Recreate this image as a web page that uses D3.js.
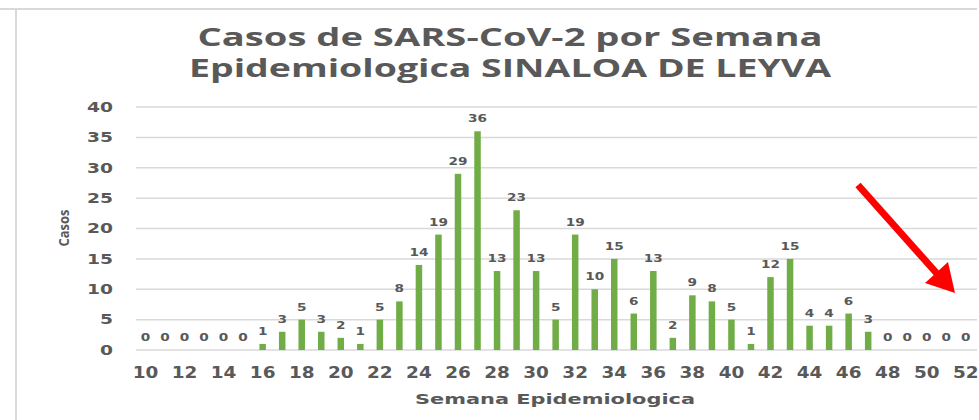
<!DOCTYPE html>
<html>
<head>
<meta charset="utf-8">
<script src="https://cdn.jsdelivr.net/npm/d3@7"></script>
<style>
  body { margin: 0; background: #fff; }
  svg { display: block; }
</style>
</head>
<body>
<div id="chart"></div>
<script>
// weekly cases, weeks 10..52
var weeks = d3.range(10, 53);
var casos = [0, 0, 0, 0, 0, 0, 1, 3, 5, 3, 2, 1, 5, 8, 14, 19, 29, 36, 13, 23,
             13, 5, 19, 10, 15, 6, 13, 2, 9, 8, 5, 1, 12, 15, 4, 4, 6, 3, 0, 0,
             0, 0, 0];
var yTicks = [0, 5, 10, 15, 20, 25, 30, 35, 40];
var xTickLabels = weeks.filter(function(w) { return w % 2 === 0; });
var titleLines = ["Casos de SARS-CoV-2 por Semana", "Epidemiologica SINALOA DE LEYVA"];

var width = 979,
    height = 420,
    textColor = "#595959",
    gridColor = "#d9d9d9",
    barColor = "#70ad47";

var svg = d3.select("#chart").append("svg")
    .attr("width", width)
    .attr("height", height);

// frame of the pasted chart
svg.append("line")
    .attr("x1", 0).attr("x2", 977).attr("y1", 9).attr("y2", 9)
    .style("stroke", gridColor).style("stroke-width", 2);
svg.append("line")
    .attr("x1", 16).attr("x2", 16).attr("y1", 9).attr("y2", height)
    .style("stroke", gridColor).style("stroke-width", 2);

var x = d3.scaleBand()
    .domain(weeks)
    .range([135.7, 975.6])
    .paddingInner(0)
    .paddingOuter(0);

var y = d3.scaleLinear()
    .domain([0, 40])
    .range([350, 107]);

var barW = 6.5;

// title
svg.append("g").selectAll("text")
    .data(titleLines)
    .enter().append("text")
    .attr("x", 510)
    .attr("y", function(d, i) { return 46 + i * 31; })
    .attr("text-anchor", "middle")
    .attr("textLength", function(d, i) { return i === 0 ? 625 : 642; })
    .attr("lengthAdjust", "spacingAndGlyphs")
    .style("font-family", "'Open Sans', sans-serif")
    .style("font-weight", 700)
    .style("font-size", "25px")
    .style("fill", textColor)
    .text(function(d) { return d; });

// gridlines
svg.append("g").selectAll("line")
    .data(yTicks)
    .enter().append("line")
    .attr("x1", 136)
    .attr("x2", 977)
    .attr("y1", function(d) { return y(d); })
    .attr("y2", function(d) { return y(d); })
    .style("stroke", gridColor)
    .style("stroke-width", 1.5);

// y axis labels
svg.append("g").selectAll("text")
    .data(yTicks)
    .enter().append("text")
    .attr("x", 113)
    .attr("y", function(d) { return y(d); })
    .attr("dy", "0.36em")
    .attr("text-anchor", "end")
    .attr("textLength", function(d) { return String(d).length * 13; })
    .attr("lengthAdjust", "spacingAndGlyphs")
    .style("font-family", "'DejaVu Sans', sans-serif")
    .style("font-weight", "bold")
    .style("font-size", "13.5px")
    .style("fill", textColor)
    .text(function(d) { return d; });

// x axis labels
svg.append("g").selectAll("text")
    .data(xTickLabels)
    .enter().append("text")
    .attr("x", function(d) { return x(d) + x.bandwidth() / 2; })
    .attr("y", 378)
    .attr("text-anchor", "middle")
    .attr("textLength", function(d) { return String(d).length * 12.8; })
    .attr("lengthAdjust", "spacingAndGlyphs")
    .style("font-family", "'DejaVu Sans', sans-serif")
    .style("font-weight", "bold")
    .style("font-size", "16px")
    .style("fill", textColor)
    .text(function(d) { return d; });

// bars
svg.append("g").selectAll("rect")
    .data(casos)
    .enter().append("rect")
    .attr("x", function(d, i) { return x(weeks[i]) + x.bandwidth() / 2 - barW / 2; })
    .attr("y", function(d) { return y(d); })
    .attr("width", barW)
    .attr("height", function(d) { return y(0) - y(d); })
    .style("fill", barColor);

// data labels
svg.append("g").selectAll("text")
    .data(casos)
    .enter().append("text")
    .attr("x", function(d, i) { return x(weeks[i]) + x.bandwidth() / 2; })
    .attr("y", function(d) { return y(d) - 9; })
    .attr("text-anchor", "middle")
    .attr("textLength", function(d) { return String(d).length * 9.5; })
    .attr("lengthAdjust", "spacingAndGlyphs")
    .style("font-family", "'DejaVu Sans', sans-serif")
    .style("font-weight", "bold")
    .style("font-size", "10.5px")
    .style("fill", textColor)
    .text(function(d) { return d; });

// axis titles
svg.append("text")
    .attr("x", 555)
    .attr("y", 404)
    .attr("text-anchor", "middle")
    .attr("textLength", 280)
    .attr("lengthAdjust", "spacingAndGlyphs")
    .style("font-family", "'DejaVu Sans', sans-serif")
    .style("font-weight", "bold")
    .style("font-size", "14px")
    .style("fill", textColor)
    .text("Semana Epidemiologica");

svg.append("text")
    .attr("transform", "translate(69,228) rotate(-90)")
    .attr("text-anchor", "middle")
    .attr("textLength", 37)
    .attr("lengthAdjust", "spacingAndGlyphs")
    .style("font-family", "'Open Sans', sans-serif")
    .style("font-weight", 700)
    .style("font-size", "14px")
    .style("fill", textColor)
    .text("Casos");

// red arrow annotation
var arrow = svg.append("g").style("fill", "#ff0000").style("stroke", "#ff0000");
arrow.append("line")
    .attr("x1", 858).attr("y1", 185)
    .attr("x2", 940).attr("y2", 277)
    .style("stroke-width", 7);
arrow.append("polygon")
    .attr("points", "955,293 925,283 948,262")
    .style("stroke", "none");
</script>
</body>
</html>
